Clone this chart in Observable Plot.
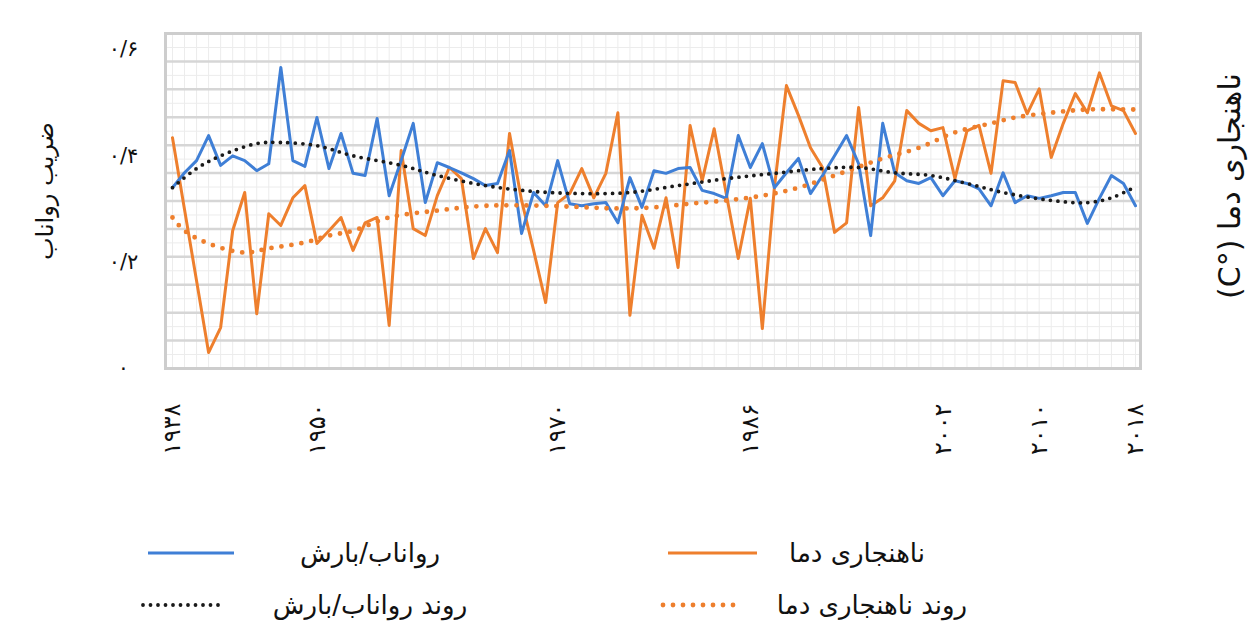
<!DOCTYPE html>
<html><head><meta charset="utf-8">
<script src="https://cdn.jsdelivr.net/npm/d3@7"></script>
<script src="https://cdn.jsdelivr.net/npm/@observablehq/plot@0.6"></script>
<style>
body{margin:0;background:#fff;font-family:"DejaVu Sans",sans-serif;}
#legend{position:relative;width:1260px;height:145px;}
.lg{position:absolute;font-size:26px;color:#111;white-space:nowrap;transform:translate(-50%,-50%);direction:rtl;}
.sw{position:absolute;transform:translateY(-50%);}
</style></head><body>
<div id="chart"></div>
<div id="legend"></div>
<script>
// ---- data ----
const firstYear = 1938, lastYear = 2018;
const years = d3.range(firstYear, lastYear + 1);
const xTickYears = [1938, 1950, 1970, 1986, 2002, 2010, 2018];
const yTicks = [0, 0.2, 0.4, 0.6];

// رواناب/بارش (runoff / precipitation ratio)
const runoffRatio = [
 0.340,0.368,0.391,0.438,0.382,0.400,0.391,0.372,0.385,0.566,
 0.391,0.380,0.472,0.376,0.442,0.367,0.363,0.470,0.325,0.391,
 0.461,0.312,0.387,0.378,0.368,0.357,0.344,0.348,0.410,0.254,
 0.331,0.306,0.391,0.310,0.306,0.310,0.312,0.274,0.359,0.303,
 0.372,0.367,0.376,0.378,0.335,0.329,0.320,0.438,0.378,0.423,
 0.340,0.368,0.395,0.329,0.363,0.400,0.438,0.385,0.250,0.461,
 0.368,0.353,0.348,0.359,0.325,0.353,0.348,0.338,0.306,0.368,
 0.312,0.325,0.320,0.325,0.331,0.331,0.273,0.320,0.363,0.348,
 0.306];

// ناهنجاری دما (temperature anomaly, drawn in the chart's plotting units)
const tempAnomaly = [
 0.434,0.299,0.165,0.030,0.077,0.259,0.331,0.103,0.291,0.269,
 0.321,0.344,0.235,0.259,0.284,0.222,0.274,0.284,0.081,0.410,
 0.263,0.250,0.325,0.378,0.357,0.207,0.263,0.218,0.442,0.316,
 0.222,0.124,0.312,0.329,0.376,0.321,0.367,0.481,0.100,0.288,
 0.226,0.321,0.190,0.457,0.353,0.451,0.329,0.207,0.320,0.075,
 0.340,0.532,0.476,0.415,0.378,0.256,0.274,0.491,0.306,0.321,
 0.353,0.485,0.461,0.447,0.453,0.357,0.447,0.457,0.367,0.541,
 0.538,0.479,0.526,0.397,0.461,0.517,0.481,0.556,0.494,0.485,
 0.442];

// روند رواناب/بارش (trend, read at selected years)
const runoffTrendYears = [1938,1940,1942,1945,1947,1950,1953,1957,1960,1964,1968,1972,1976,1980,1984,1988,1992,1995,1998,2001,2004,2007,2011,2014,2016,2018];
const runoffTrendVals  = [0.340,0.376,0.400,0.423,0.425,0.419,0.400,0.382,0.363,0.344,0.333,0.329,0.331,0.344,0.357,0.367,0.376,0.378,0.368,0.363,0.348,0.331,0.316,0.312,0.321,0.342];

// روند ناهنجاری دما (trend, read at selected years)
const tempTrendYears = [1938,1939,1941,1944,1946,1949,1951,1953,1956,1960,1964,1969,1975,1978,1981,1984,1987,1990,1993,1997,2000,2003,2006,2008,2011,2014,2018];
const tempTrendVals  = [0.284,0.259,0.235,0.218,0.226,0.237,0.250,0.259,0.284,0.297,0.306,0.306,0.301,0.303,0.310,0.316,0.325,0.340,0.363,0.395,0.415,0.444,0.461,0.472,0.481,0.487,0.487];

const labels = {
  yTitle: "ضریب رواناب",
  y2Title: "(C°) ناهنجاری دما",
  runoff: "رواناب/بارش",
  temp: "ناهنجاری دما",
  runoffTrend: "روند رواناب/بارش",
  tempTrend: "روند ناهنجاری دما"
};

const colors = {runoff:"#3f7fd6", temp:"#ee7f2d", runoffTrend:"#1a1a1a", tempTrend:"#ee7f2d"};

// ---- helpers ----
const faDigits = "۰۱۲۳۴۵۶۷۸۹";
const toFa = s => String(s).replace(/\d/g, c => faDigits[+c]);
const fmtY = v => v === 0 ? "۰" : toFa(d3.format(".1f")(v)).replace(".", "/");

const runoffData = years.map((yr, i) => ({year: yr, v: runoffRatio[i]}));
const tempData = years.map((yr, i) => ({year: yr, v: tempAnomaly[i]}));
const runoffTrend = runoffTrendYears.map((yr, i) => ({year: yr, v: runoffTrendVals[i]}));
const tempTrend = tempTrendYears.map((yr, i) => ({year: yr, v: tempTrendVals[i]}));

const yMax = 0.63;
const majorStep = yMax / 12;

const chart = Plot.plot({
  width: 1260, height: 480,
  marginLeft: 165, marginRight: 120, marginTop: 33, marginBottom: 112,
  style: {fontFamily: "DejaVu Sans, sans-serif", background: "white", color: "#111"},
  x: {domain: [1937.42, 2018.415]},
  y: {domain: [0, yMax]},
  marks: [
    Plot.ruleX(years, {stroke: "#ececec", strokeWidth: 1}),
    Plot.gridY({ticks: d3.range(majorStep / 2, yMax, majorStep), stroke: "#ececec", strokeOpacity: 1, strokeWidth: 1}),
    Plot.gridY({ticks: d3.range(0, yMax + 1e-9, majorStep), stroke: "#d6d6d6", strokeOpacity: 1, strokeWidth: 2.5}),
    Plot.frame({stroke: "#cdcdcd", strokeWidth: 3}),
    Plot.axisY({ticks: yTicks, tickFormat: fmtY, tickSize: 0, tickPadding: 42, textAnchor: "middle", fontSize: 21, label: null}),
    Plot.axisX({ticks: xTickYears, tickFormat: toFa, tickSize: 0, tickPadding: 35, tickRotate: -90, fontSize: 24, label: null}),
    Plot.text([labels.yTitle], {frameAnchor: "left", textAnchor: "middle", dx: -120, dy: -10, rotate: -90, fontSize: 24}),
    Plot.text([labels.y2Title], {frameAnchor: "right", textAnchor: "middle", dx: 90, dy: -15, rotate: -90, fontSize: 30}),
    Plot.line(tempData, {x: "year", y: "v", stroke: colors.temp, strokeWidth: 3}),
    Plot.line(runoffData, {x: "year", y: "v", stroke: colors.runoff, strokeWidth: 3}),
    Plot.line(tempTrend, {x: "year", y: "v", curve: "catmull-rom", stroke: colors.tempTrend, strokeWidth: 4.8, strokeDasharray: "0 10", strokeLinecap: "round"}),
    Plot.line(runoffTrend, {x: "year", y: "v", curve: "catmull-rom", stroke: colors.runoffTrend, strokeWidth: 3.8, strokeDasharray: "0 7.5", strokeLinecap: "round"})
  ]
});
document.getElementById("chart").appendChild(chart);

// ---- legend (below the SVG) ----
const legend = d3.select("#legend");
const items = [
  {label: labels.runoff, color: colors.runoff, dash: null, w: 3, sx: 145, sw: 92, tx: 370, y: 73},
  {label: labels.temp, color: colors.temp, dash: null, w: 3, sx: 665, sw: 95, tx: 857, y: 73},
  {label: labels.runoffTrend, color: colors.runoffTrend, dash: "0 7.5", w: 3.8, sx: 140, sw: 88, tx: 370, y: 125},
  {label: labels.tempTrend, color: colors.tempTrend, dash: "0 10", w: 4.8, sx: 660, sw: 82, tx: 872, y: 125}
];
for (const it of items) {
  const s = legend.append("svg").attr("class", "sw").attr("width", it.sw).attr("height", 10)
    .style("left", it.sx + "px").style("top", it.y + "px");
  s.append("line").attr("x1", 3).attr("x2", it.sw - 3).attr("y1", 5).attr("y2", 5)
    .attr("stroke", it.color).attr("stroke-width", it.w)
    .attr("stroke-linecap", it.dash ? "round" : "butt")
    .attr("stroke-dasharray", it.dash);
  legend.append("div").attr("class", "lg").style("left", it.tx + "px").style("top", it.y + "px").text(it.label);
}
</script>
</body></html>
